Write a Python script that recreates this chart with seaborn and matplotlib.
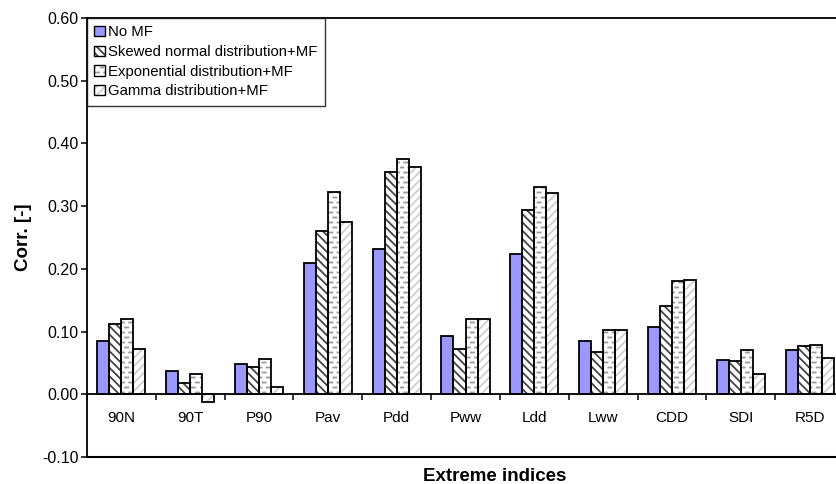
import numpy as np
import pandas as pd
import matplotlib
matplotlib.use('Agg')
import matplotlib.pyplot as plt
import matplotlib.hatch as mhatch
from matplotlib.path import Path
from matplotlib.patches import Patch, Rectangle
from matplotlib.ticker import FixedLocator, FormatStrFormatter
import seaborn as sns

# values
INDICES = ['90N', '90T', 'P90', 'Pav', 'Pdd', 'Pww', 'Ldd', 'Lww', 'CDD', 'SDI', 'R5D']
SERIES  = ['No MF', 'Skewed normal distribution+MF',
           'Exponential distribution+MF', 'Gamma distribution+MF']

no_mf    = [0.085, 0.037, 0.049, 0.210, 0.231, 0.093, 0.223, 0.085, 0.108, 0.055, 0.070]
skewed   = [0.112, 0.018, 0.043, 0.261, 0.355, 0.072, 0.294, 0.068, 0.140, 0.053, 0.077]
expon    = [0.120, 0.033, 0.057, 0.323, 0.375, 0.120, 0.330, 0.103, 0.181, 0.070, 0.078]
gamma    = [0.073, -0.012, 0.012, 0.274, 0.362, 0.120, 0.321, 0.103, 0.183, 0.032, 0.058]

Y_TICKS = [-0.10, 0.00, 0.10, 0.20, 0.30, 0.40, 0.50, 0.60]

# fill, hatch, hatch colour for each series
STYLES = [
    ('#9999ff', '',         '#9999ff'),
    ('white',   '\\\\\\\\', '#444444'),
    ('white',   '-',        '#9a9a9a'),
    ('white',   '////',     '#cfcfcf'),
]


# short dashed horizontal hatch (replaces the solid '-' hatch)
class DashedHatch(mhatch.HatchPatternBase):
    def __init__(self, hatch, density):
        self.rows = 20 if '-' in hatch else 0
        self.cols = 12
        self.num_vertices = self.rows * self.cols * 2

    def set_vertices_and_codes(self, vertices, codes):
        if self.rows == 0:
            return
        k = 0
        period = 1.0 / self.cols
        for r in range(self.rows):
            y = (r + 0.5) / self.rows
            off = 0.0 if r % 2 == 0 else period / 2
            for c in range(self.cols):
                x0 = c * period + off
                vertices[k] = (x0, y)
                vertices[k + 1] = (x0 + period * 0.38, y)
                codes[k] = Path.MOVETO
                codes[k + 1] = Path.LINETO
                k += 2


for i, h in enumerate(mhatch._hatch_types):
    if h is mhatch.HorizontalHatch:
        mhatch._hatch_types[i] = DashedHatch

sns.set_style('white')
plt.rcParams['font.family'] = ['Liberation Sans', 'DejaVu Sans']
plt.rcParams['hatch.linewidth'] = 1.3
plt.rcParams['text.color'] = 'black'
plt.rcParams['axes.labelcolor'] = 'black'
plt.rcParams['xtick.color'] = 'black'
plt.rcParams['ytick.color'] = 'black'

df = pd.DataFrame({
    'index':  INDICES * 4,
    'series': np.repeat(SERIES, len(INDICES)),
    'corr':   no_mf + skewed + expon + gamma,
})

fig = plt.figure(figsize=(8.36, 4.84), dpi=100)
ax = fig.add_axes([87 / 836, 27 / 484, 757 / 836, 439 / 484])

sns.barplot(data=df, x='index', y='corr', hue='series', order=INDICES,
            hue_order=SERIES, width=0.7, gap=0, errorbar=None,
            palette=['#9999ff'] * 4, legend=False, ax=ax)

for cont, (fc, hatch, hc) in zip(ax.containers, STYLES):
    for bar in cont:
        bar.set_facecolor(fc)
        bar.set_edgecolor(hc)
        bar.set_hatch(hatch)
        bar.set_linewidth(0)
        ax.add_patch(Rectangle(bar.get_xy(), bar.get_width(), bar.get_height(),
                               fill=False, ec='black', lw=1.3, zorder=3))

ax.set_xlim(-0.5, len(INDICES) - 0.5)
ax.set_ylim(-0.10, 0.60)
ax.yaxis.set_major_locator(FixedLocator(Y_TICKS))
ax.yaxis.set_major_formatter(FormatStrFormatter('%.2f'))

# category axis sits on the zero line
ax.spines['bottom'].set_position(('data', 0))
ax.axhline(-0.10, color='black', lw=1.5, clip_on=False)
ax.xaxis.set_minor_locator(FixedLocator(np.arange(len(INDICES) + 1) - 0.5))
ax.tick_params(axis='x', which='major', length=0, pad=12, labelsize=11,
               labelcolor='black')
ax.tick_params(axis='x', which='minor', length=4, width=1.1, direction='out',
               bottom=True, color='black')
ax.tick_params(axis='y', which='major', length=4, width=1.1, direction='out',
               left=True, labelsize=11.5, pad=2, color='black', labelcolor='black')

for s in ax.spines.values():
    s.set_color('black')
    s.set_linewidth(1.3)

ax.set_xlabel('Extreme indices', fontsize=13.5, fontweight='bold', color='black')
ax.set_ylabel('Corr. [-]', fontsize=13.5, fontweight='bold', color='black')
ax.xaxis.set_label_coords(0.539, -0.025)
ax.yaxis.set_label_coords(-0.073, 0.5)

handles = [(Patch(facecolor=fc, edgecolor=hc, hatch=h, lw=0),
            Patch(fill=False, edgecolor='black', lw=1.0))
           for fc, h, hc in STYLES]
leg = ax.legend(handles, SERIES, loc='upper left', bbox_to_anchor=(0, 1),
                borderaxespad=0, fontsize=10.7, frameon=True, fancybox=False,
                handlelength=0.7, handleheight=0.7, handletextpad=0.2,
                borderpad=0.5, labelspacing=0.38)
leg.get_frame().set_edgecolor('black')
leg.get_frame().set_linewidth(1.0)
for t in leg.get_texts():
    t.set_color('black')

fig.savefig('out.png', dpi=100)
